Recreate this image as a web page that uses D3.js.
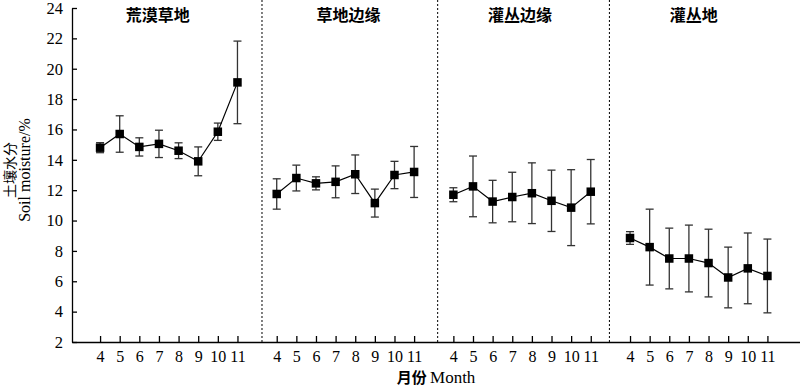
<!DOCTYPE html>
<html>
<head>
<meta charset="utf-8">
<script src="https://cdn.jsdelivr.net/npm/d3@7"></script>
<style>
  body { margin: 0; background: #fff; }
  svg { display: block; }
</style>
</head>
<body>
<svg id="chart" width="800" height="386"></svg>
<script>
//
// Data
//
const panels = ['荒漠草地', '草地边缘', '灌丛边缘', '灌丛地'];
const months = [4, 5, 6, 7, 8, 9, 10, 11];
// mean soil moisture (%) per panel, months 4..11
const meanDesert = [14.8, 15.7, 14.85, 15.05, 14.6, 13.9, 15.85, 19.1];
const meanGrassEdge = [11.75, 12.8, 12.45, 12.55, 13.05, 11.15, 13.0, 13.2];
const meanShrubEdge = [11.7, 12.25, 11.25, 11.55, 11.8, 11.3, 10.85, 11.9];
const meanShrub = [8.85, 8.25, 7.5, 7.5, 7.2, 6.25, 6.85, 6.35];
// standard error (+/-)
const errDesert = [0.33, 1.2, 0.6, 0.9, 0.52, 0.95, 0.57, 2.72];
const errGrassEdge = [1.0, 0.85, 0.43, 1.05, 1.27, 0.92, 0.9, 1.68];
const errShrubEdge = [0.46, 2.0, 1.4, 1.63, 2.0, 2.02, 2.5, 2.12];
const errShrub = [0.42, 2.5, 2.0, 2.2, 2.23, 2.0, 2.33, 2.43];
const yTicks = [2, 4, 6, 8, 10, 12, 14, 16, 18, 20, 22, 24];

const means = [meanDesert, meanGrassEdge, meanShrubEdge, meanShrub];
const errs = [errDesert, errGrassEdge, errShrubEdge, errShrub];

//
// Layout
//
const mLeft = 72, mRight = 800, mTop = 8, mBottom = 342;
const sepAt = [8.25, 17.2, 25.95];       // separator positions (slot index)
const titleShift = [-11, 3, -2, -5];     // px nudges of panel titles
const serif = '"Liberation Serif", "Times New Roman", serif';
const cjk = '"Noto Sans CJK SC", sans-serif';

const svg = d3.select('#chart');

const x = d3.scaleLinear().domain([-1.43, 35.66]).range([mLeft, mRight]);
const y = d3.scaleLinear().domain([2, 24]).range([mBottom, mTop]);

const slot = (p, i) => p * 9 + i;

// y axis
const yAxis = svg.append('g')
    .attr('transform', `translate(${mLeft},0)`)
    .call(d3.axisLeft(y).tickValues(yTicks).tickSize(-5).tickSizeOuter(0).tickPadding(9));
yAxis.selectAll('text').attr('font-family', serif).attr('font-size', 16.5).attr('fill', '#000');
yAxis.selectAll('line, path').attr('stroke', '#000').attr('stroke-width', 1.3);

// x axis
const slots = [];
panels.forEach((p, pi) => months.forEach((m, mi) => slots.push(slot(pi, mi))));
const xAxis = svg.append('g')
    .attr('transform', `translate(0,${mBottom})`)
    .call(d3.axisBottom(x).tickValues(slots).tickSize(-6).tickSizeOuter(0).tickPadding(9)
        .tickFormat(d => months[d % 9]));
xAxis.selectAll('text').attr('font-family', serif).attr('font-size', 16).attr('fill', '#000');
xAxis.selectAll('line, path').attr('stroke', '#000').attr('stroke-width', 1.3);

// separators
svg.selectAll('line.sep')
  .data(sepAt)
  .join('line')
    .attr('class', 'sep')
    .attr('x1', d => x(d)).attr('x2', d => x(d))
    .attr('y1', 0).attr('y2', mBottom)
    .attr('stroke', '#000')
    .attr('stroke-width', 1)
    .attr('stroke-dasharray', '2,2');

// panel titles
svg.selectAll('text.title')
  .data(panels)
  .join('text')
    .attr('class', 'title')
    .attr('x', (d, i) => (x(slot(i, 0)) + x(slot(i, 7))) / 2 + titleShift[i])
    .attr('y', 21)
    .attr('text-anchor', 'middle')
    .attr('font-family', cjk)
    .attr('font-weight', 'bold')
    .attr('font-size', 16)
    .text(d => d);

// series
const line = d3.line().x(d => x(d.s)).y(d => y(d.v));
panels.forEach((p, pi) => {
  const pts = months.map((m, mi) => ({s: slot(pi, mi), v: means[pi][mi], e: errs[pi][mi]}));
  const g = svg.append('g');

  const bars = g.selectAll('g.err').data(pts).join('g').attr('class', 'err')
      .attr('stroke', '#333').attr('stroke-width', 1.3);
  bars.append('line')
      .attr('x1', d => x(d.s)).attr('x2', d => x(d.s))
      .attr('y1', d => y(d.v + d.e)).attr('y2', d => y(d.v - d.e));
  bars.append('line')
      .attr('x1', d => x(d.s) - 4).attr('x2', d => x(d.s) + 4)
      .attr('y1', d => y(d.v + d.e)).attr('y2', d => y(d.v + d.e));
  bars.append('line')
      .attr('x1', d => x(d.s) - 4).attr('x2', d => x(d.s) + 4)
      .attr('y1', d => y(d.v - d.e)).attr('y2', d => y(d.v - d.e));

  g.append('path')
      .attr('d', line(pts))
      .attr('fill', 'none')
      .attr('stroke', '#000')
      .attr('stroke-width', 1.2);

  g.selectAll('rect').data(pts).join('rect')
      .attr('x', d => x(d.s) - 4.25)
      .attr('y', d => y(d.v) - 4.25)
      .attr('width', 8.5).attr('height', 8.5)
      .attr('fill', '#000');
});

// axis titles
const yt = svg.append('g').attr('transform', 'translate(0,170) rotate(-90)');
yt.append('text')
    .attr('x', 0).attr('y', 14.5)
    .attr('text-anchor', 'middle')
    .attr('font-family', cjk)
    .attr('font-size', 14)
    .text('土壤水分');
yt.append('text')
    .attr('x', 0).attr('y', 30)
    .attr('text-anchor', 'middle')
    .attr('font-family', serif)
    .attr('font-size', 16)
    .text('Soil moisture/%');

const xt = svg.append('text')
    .attr('x', 436).attr('y', 383)
    .attr('text-anchor', 'middle');
xt.append('tspan').attr('font-family', cjk).attr('font-weight', 'bold').attr('font-size', 15).text('月份 ');
xt.append('tspan').attr('font-family', serif).attr('font-size', 17).text('Month');
</script>
</body>
</html>
